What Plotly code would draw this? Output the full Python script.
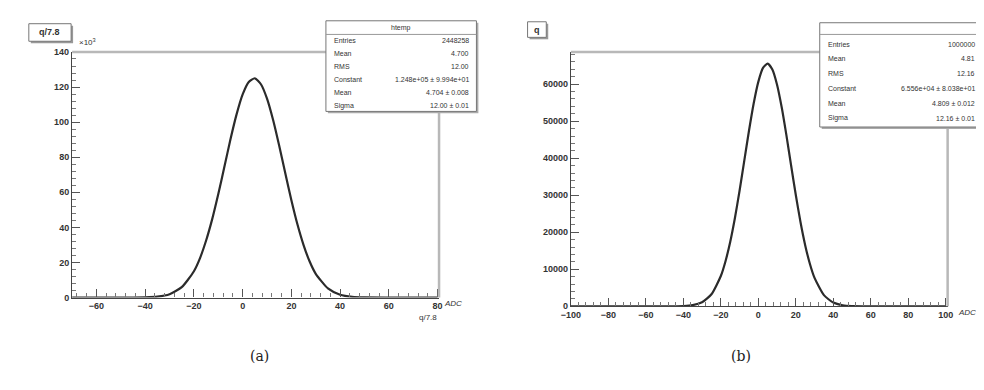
import plotly.graph_objects as go

W, H = 984, 390

# ---------------- data ----------------
# panel (a): q/7.8, counts in units of 10^3
a_x = [-70, -40, -35, -30, -25, -20, -17.5, -15, -12.5, -10, -7.5, -5, -2.5, 0,
       2.5, 5, 7.5, 10, 12.5, 15, 17.5, 20, 22.5, 25, 27.5, 30, 35, 40, 45, 50, 80]
a_y = [0, 0.12, 0.5, 1.9, 5.9, 15.0, 22.5, 32.5, 44.7, 59.0, 74.5, 90.2, 104.4, 115.8,
       122.9, 125.0, 121.6, 113.4, 101.2, 86.5, 70.8, 55.5, 41.6, 29.9, 20.5, 13.5, 5.2,
       1.6, 0.4, 0.1, 0]
a_xticks = [-60, -40, -20, 0, 20, 40, 60, 80]
a_yticks = [0, 20, 40, 60, 80, 100, 120, 140]

# panel (b): q, counts
b_x = [-100, -40, -35, -30, -25, -20, -17.5, -15, -12.5, -10, -7.5, -5, -2.5, 0,
       2.5, 5, 7.5, 10, 12.5, 15, 17.5, 20, 22.5, 25, 27.5, 30, 35, 40, 45, 50, 100]
b_y = [0, 74, 308, 1088, 3245, 8180, 12180, 17390, 23800, 31220, 39270, 47340, 54720,
       60630, 64390, 65560, 63970, 59860, 53680, 46150, 38030, 30050, 22760, 16520,
       11490, 7670, 3010, 995, 279, 65, 0]
b_xticks = [-100, -80, -60, -40, -20, 0, 20, 40, 60, 80, 100]
b_yticks = [0, 10000, 20000, 30000, 40000, 50000, 60000]
b_yticklabels = ["0", "10000", "20000", "30000", "40000", "50000", "60000"]

a_stats_title = "htemp"
a_stats = [("Entries", "2448258"), ("Mean", "4.700"), ("RMS", "12.00"),
           ("Constant", "1.248e+05 ± 9.994e+01"), ("Mean", "4.704 ± 0.008"),
           ("Sigma", "12.00 ± 0.01")]
b_stats = [("Entries", "1000000"), ("Mean", "4.81"), ("RMS", "12.16"),
           ("Constant", "6.556e+04 ± 8.038e+01"), ("Mean", "4.809 ± 0.012"),
           ("Sigma", "12.16 ± 0.01")]

# ---------------- helpers (pixel -> paper) ----------------
def px(x):
    return x / W

def py(y):
    return 1 - y / H

FONT = "Liberation Sans"
TXT = "#333333"

fig = go.Figure()
fig.add_trace(go.Scatter(x=a_x, y=a_y, mode="lines", xaxis="x", yaxis="y",
                         line=dict(color="#2b2b2b", width=2.2, shape="spline", smoothing=0.6),
                         showlegend=False, hoverinfo="skip"))
fig.add_trace(go.Scatter(x=b_x, y=b_y, mode="lines", xaxis="x2", yaxis="y2",
                         line=dict(color="#2b2b2b", width=2.2, shape="spline", smoothing=0.6),
                         showlegend=False, hoverinfo="skip"))

axis_common = dict(showgrid=False, zeroline=False, ticks="inside", ticklen=8,
                   tickwidth=1, tickcolor="#555", showline=True, linecolor="#444",
                   linewidth=1.3, tickfont=dict(family=FONT, size=9, color=TXT, weight="bold"),
                   mirror=False)

a_dom_x = [px(55), px(428)]
a_dom_y = [py(292), py(40)]
b_dom_x = [px(562), px(945)]
b_dom_y = [py(301), py(40)]

fig.update_layout(
    width=W, height=H, margin=dict(l=0, r=0, t=0, b=0),
    paper_bgcolor="white", plot_bgcolor="white",
    xaxis=dict(domain=a_dom_x, anchor="y", range=[-70, 80.6], tickvals=a_xticks,
               minor=dict(dtick=4, ticks="inside", ticklen=4, tickcolor="#777"),
               **axis_common),
    yaxis=dict(domain=a_dom_y, anchor="x", range=[0, 140], tickvals=a_yticks,
               minor=dict(dtick=4, ticks="inside", ticklen=4, tickcolor="#777"),
               **axis_common),
    xaxis2=dict(domain=b_dom_x, anchor="y2", range=[-100, 101], tickvals=b_xticks,
                minor=dict(dtick=4, ticks="inside", ticklen=4, tickcolor="#777"),
                **axis_common),
    yaxis2=dict(domain=b_dom_y, anchor="x2", range=[0, 68700], tickvals=b_yticks,
                ticktext=b_yticklabels,
                minor=dict(dtick=2000, ticks="inside", ticklen=4, tickcolor="#777"),
                **axis_common),
)

shapes = []
annos = []

for (x0, x1, y0, y1) in [(55, 428, 40, 292), (562, 945, 40, 301)]:
    shapes.append(dict(type="line", xref="paper", yref="paper", x0=px(x0), x1=px(x1),
                       y0=py(y0), y1=py(y0), line=dict(color="#b8b8b8", width=2.5)))
    shapes.append(dict(type="line", xref="paper", yref="paper", x0=px(x1), x1=px(x1),
                       y0=py(y0), y1=py(y1), line=dict(color="#b8b8b8", width=2.5)))

def title_box(x0, y0, x1, y1, text):
    shapes.append(dict(type="rect", xref="paper", yref="paper", x0=px(x0 + 2), x1=px(x1 + 2),
                       y0=py(y1 + 2), y1=py(y0 + 2), line=dict(width=0), fillcolor="#999"))
    shapes.append(dict(type="rect", xref="paper", yref="paper", x0=px(x0), x1=px(x1),
                       y0=py(y1), y1=py(y0), line=dict(color="#777", width=1), fillcolor="white"))
    annos.append(dict(xref="paper", yref="paper", x=px((x0 + x1) / 2), y=py((y0 + y1) / 2),
                      text=text, showarrow=False, xanchor="center", yanchor="middle",
                      font=dict(family=FONT, size=9, color=TXT)))

title_box(11, 11, 54, 29, "<b>q/7.8</b>")
title_box(518, 9, 537, 25, "<b>q</b>")

def stats_box(x0, y0, x1, y1, title, rows, row_y0, row_dy, title_h):
    shapes.append(dict(type="rect", xref="paper", yref="paper", x0=px(x0 + 2), x1=px(x1 + 2),
                       y0=py(y1 + 2), y1=py(y0 + 2), line=dict(width=0), fillcolor="#aaa"))
    shapes.append(dict(type="rect", xref="paper", yref="paper", x0=px(x0), x1=px(x1),
                       y0=py(y1), y1=py(y0), line=dict(color="#777", width=1), fillcolor="white"))
    shapes.append(dict(type="line", xref="paper", yref="paper", x0=px(x0), x1=px(x1),
                       y0=py(y0 + title_h), y1=py(y0 + title_h), line=dict(color="#999", width=1)))
    if title:
        annos.append(dict(xref="paper", yref="paper", x=px((x0 + x1) / 2), y=py(y0 + title_h / 2),
                          text=title, showarrow=False, xanchor="center", yanchor="middle",
                          font=dict(family=FONT, size=7, color=TXT)))
    for i, (k, v) in enumerate(rows):
        yy = row_y0 + i * row_dy
        annos.append(dict(xref="paper", yref="paper", x=px(x0 + 6), y=py(yy), text=k,
                          showarrow=False, xanchor="left", yanchor="middle",
                          font=dict(family=FONT, size=7, color=TXT)))
        annos.append(dict(xref="paper", yref="paper", x=px(x1 - 6), y=py(yy), text=v,
                          showarrow=False, xanchor="right", yanchor="middle",
                          font=dict(family=FONT, size=7, color=TXT)))

stats_box(313, 8, 466, 101, a_stats_title, a_stats, 28, 13.4, 14)
stats_box(815, 10, 981, 117, "", b_stats, 32, 15.2, 12)

annos.append(dict(xref="paper", yref="paper", x=px(60), y=py(37), text="×10<sup>3</sup>",
                  showarrow=False, xanchor="left", yanchor="bottom",
                  font=dict(family=FONT, size=8, color=TXT)))
annos.append(dict(xref="paper", yref="paper", x=px(431), y=py(298), text="<i>ADC</i>",
                  showarrow=False, xanchor="left", yanchor="middle",
                  font=dict(family=FONT, size=8, color=TXT)))
annos.append(dict(xref="paper", yref="paper", x=px(428), y=py(313), text="q/7.8",
                  showarrow=False, xanchor="right", yanchor="middle",
                  font=dict(family=FONT, size=8, color=TXT)))
annos.append(dict(xref="paper", yref="paper", x=px(954), y=py(307), text="<i>ADC</i>",
                  showarrow=False, xanchor="left", yanchor="middle",
                  font=dict(family=FONT, size=8, color=TXT)))

annos.append(dict(xref="paper", yref="paper", x=px(245), y=py(352), text="(a)",
                  showarrow=False, xanchor="center", yanchor="middle",
                  font=dict(family="DejaVu Serif", size=14, color="#222")))
annos.append(dict(xref="paper", yref="paper", x=px(735), y=py(352), text="(b)",
                  showarrow=False, xanchor="center", yanchor="middle",
                  font=dict(family="DejaVu Serif", size=14, color="#222")))

fig.update_layout(shapes=shapes, annotations=annos)
fig.write_html("out.html")
